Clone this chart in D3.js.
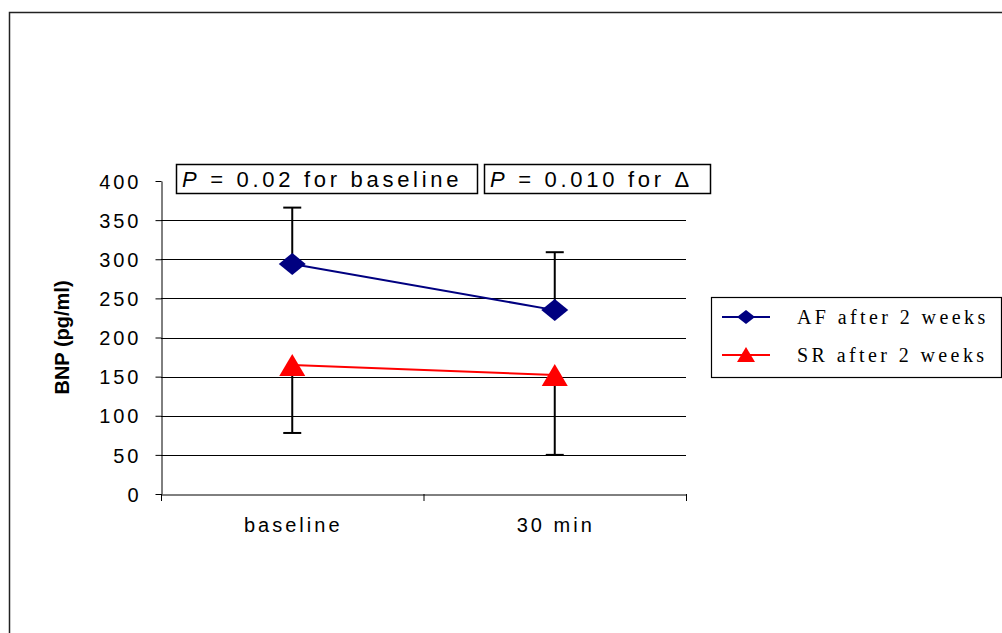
<!DOCTYPE html>
<html>
<head>
<meta charset="utf-8">
<script src="https://cdn.jsdelivr.net/npm/d3@7"></script>
<style>
  html, body { margin: 0; padding: 0; background: #fff; }
  svg { display: block; }
</style>
</head>
<body>
<svg id="chart" width="1002" height="633"></svg>
<script>
// BNP concentrations (pg/ml), mean with one-sided SD error bars
const categories = ["baseline", "30 min"];
const seriesNames = ["AF after 2 weeks", "SR after 2 weeks"];
const afValues = [294, 235];
const afErrors = [72, 74];      // drawn upward
const srValues = [165, 152];
const srErrors = [87, 102];     // drawn downward
const yTicks = [0, 50, 100, 150, 200, 250, 300, 350, 400];
const annotations = [
  { italic: "P", rest: " = 0.02 for baseline" },
  { italic: "P", rest: " = 0.010 for \u0394" }
];

const svg = d3.select("#chart");
const sans = "Arial, 'Liberation Sans', sans-serif";
const serif = "'Times New Roman', 'Liberation Serif', serif";

// outer chart frame
svg.append("rect")
  .attr("x", 9.5).attr("y", 12.5)
  .attr("width", 1010).attr("height", 700)
  .attr("fill", "none").attr("stroke", "#222").attr("stroke-width", 1.5);

const plot = { left: 161, right: 686, top: 181, bottom: 494 };

const x = d3.scaleBand().domain(categories).range([plot.left, plot.right]);
const y = d3.scaleLinear().domain([0, 400]).range([plot.bottom, plot.top]);
const cx = c => x(c) + x.bandwidth() / 2;

// horizontal gridlines
svg.append("g").selectAll("line")
  .data(yTicks.filter(t => t > 0 && t < 400))
  .join("line")
  .attr("x1", plot.left).attr("x2", plot.right)
  .attr("y1", d => Math.round(y(d)) + 0.5).attr("y2", d => Math.round(y(d)) + 0.5)
  .attr("stroke", "#000").attr("stroke-width", 1);

// y axis
const yAxis = svg.append("g")
  .attr("transform", `translate(${plot.left + 0.5},0)`)
  .call(d3.axisLeft(y).tickValues(yTicks).tickSize(6).tickSizeOuter(0).tickPadding(14));
yAxis.select(".domain").attr("stroke", "#000");
yAxis.selectAll(".tick line").attr("stroke", "#000");
yAxis.selectAll(".tick text")
  .attr("font-family", sans).attr("font-size", 20).attr("fill", "#000")
  .attr("letter-spacing", 3).attr("dy", "0.36em");

// x axis
const xAxis = svg.append("g")
  .attr("transform", `translate(0,${plot.bottom + 0.5})`)
  .call(d3.axisBottom(x).tickSize(0).tickPadding(23));
xAxis.select(".domain").attr("stroke", "#000");
xAxis.selectAll(".tick text")
  .attr("font-family", sans).attr("font-size", 20).attr("fill", "#000")
  .attr("letter-spacing", 3).attr("dx", 1);
// category separator ticks
const sepPos = [plot.left, plot.left + x.bandwidth(), plot.right];
svg.append("g").selectAll("line").data(sepPos).join("line")
  .attr("x1", d => d + 0.5).attr("x2", d => d + 0.5)
  .attr("y1", plot.bottom).attr("y2", plot.bottom + 7)
  .attr("stroke", "#000");

// y axis title
svg.append("text")
  .attr("transform", `translate(69,${(plot.top + plot.bottom) / 2}) rotate(-90)`)
  .attr("text-anchor", "middle")
  .attr("font-family", sans).attr("font-weight", "bold").attr("font-size", 20)
  .text("BNP (pg/ml)");

// error bars
function errorBars(values, errors, dir) {
  const g = svg.append("g");
  categories.forEach((c, i) => {
    const x0 = cx(c);
    const yEnd = y(values[i] + dir * errors[i]);
    g.append("line")
      .attr("x1", x0).attr("x2", x0)
      .attr("y1", y(values[i])).attr("y2", yEnd)
      .attr("stroke", "#000").attr("stroke-width", 2);
    g.append("line")
      .attr("x1", x0 - 9).attr("x2", x0 + 9)
      .attr("y1", yEnd).attr("y2", yEnd)
      .attr("stroke", "#000").attr("stroke-width", 2);
  });
}
errorBars(afValues, afErrors, 1);
errorBars(srValues, srErrors, -1);

const line = d3.line().x((d, i) => cx(categories[i])).y(d => y(d));
const diamond = "M0,-11L13.5,0L0,11L-13.5,0Z";
const triangle = "M0,-11L13,11L-13,11Z";

function series(values, color, shape) {
  svg.append("path").datum(values)
    .attr("d", line).attr("fill", "none")
    .attr("stroke", color).attr("stroke-width", 2);
  svg.append("g").selectAll("path").data(values).join("path")
    .attr("transform", (d, i) => `translate(${cx(categories[i])},${y(d)})`)
    .attr("d", shape).attr("fill", color);
}
series(afValues, "#000080", diamond);
series(srValues, "#ff0000", triangle);

// significance annotations
const boxes = [
  { x: 176, w: 301 },
  { x: 484, w: 226 }
];
annotations.forEach((a, i) => {
  const b = boxes[i];
  svg.append("rect")
    .attr("x", b.x + 0.5).attr("y", 164.5).attr("width", b.w).attr("height", 29)
    .attr("fill", "#fff").attr("stroke", "#000").attr("stroke-width", 1.5);
  const t = svg.append("text")
    .attr("x", b.x + 6).attr("y", 187)
    .attr("font-family", sans).attr("font-size", 22).attr("letter-spacing", 3.7);
  t.append("tspan").attr("font-style", "italic").text(a.italic);
  t.append("tspan").attr("xml:space", "preserve").style("white-space", "pre").text(a.rest);
});

// legend
const legend = svg.append("g");
legend.append("rect")
  .attr("x", 711.5).attr("y", 297.5).attr("width", 290).attr("height", 80)
  .attr("fill", "#fff").attr("stroke", "#000").attr("stroke-width", 1.2);
const legendItems = [
  { name: seriesNames[0], color: "#000080", shape: "M0,-7L9,0L0,7L-9,0Z", y: 317 },
  { name: seriesNames[1], color: "#ff0000", shape: "M0,-8L9,7L-9,7Z", y: 355 }
];
legendItems.forEach(d => {
  legend.append("line")
    .attr("x1", 722).attr("x2", 770).attr("y1", d.y).attr("y2", d.y)
    .attr("stroke", d.color).attr("stroke-width", 2);
  legend.append("path")
    .attr("transform", `translate(746,${d.y})`)
    .attr("d", d.shape).attr("fill", d.color);
  legend.append("text")
    .attr("x", 797).attr("y", d.y + 7)
    .attr("font-family", serif).attr("font-size", 20).attr("letter-spacing", 3.4)
    .text(d.name);
});
</script>
</body>
</html>
